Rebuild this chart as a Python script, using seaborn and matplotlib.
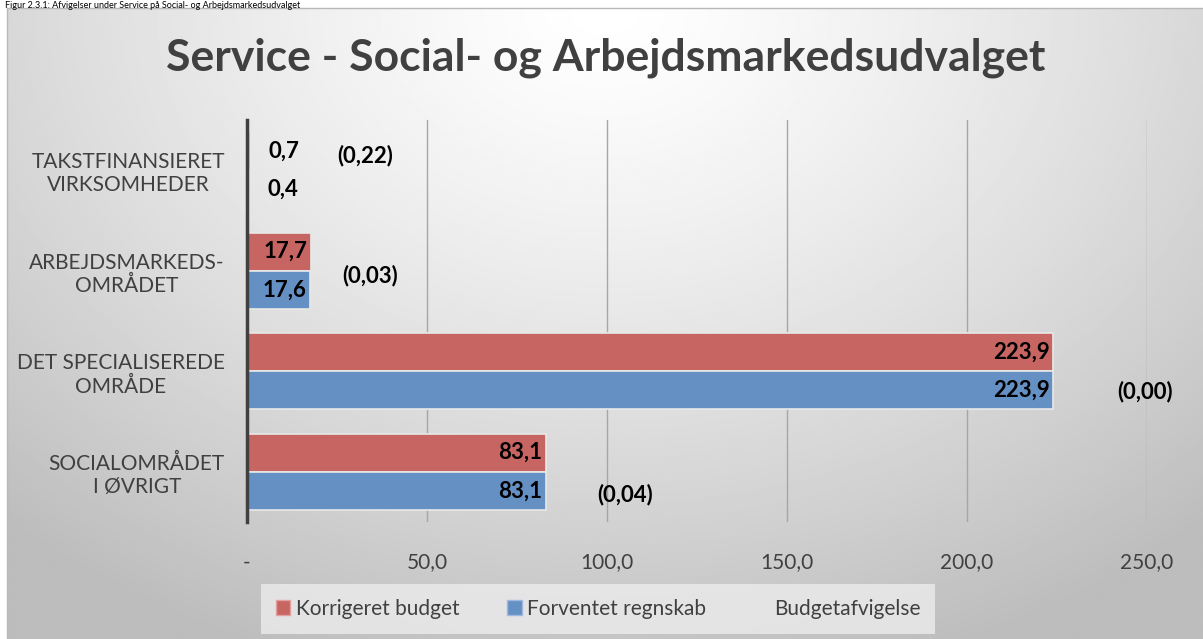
import numpy as np
import pandas as pd
import matplotlib
matplotlib.use("Agg")
import matplotlib.pyplot as plt
import seaborn as sns
from matplotlib.patches import Patch

# data
kategorier = ["TAKSTFINANSIERET\nVIRKSOMHEDER", "ARBEJDSMARKEDS-\nOMRÅDET",
              "DET SPECIALISEREDE\nOMRÅDE", "SOCIALOMRÅDET\nI ØVRIGT"]
korrigeret_budget = [0.7, 17.7, 223.9, 83.1]
forventet_regnskab = [0.4, 17.6, 223.9, 83.1]
budgetafvigelse = [-0.22, -0.03, -0.00, -0.04]
serier = ["Korrigeret budget", "Forventet regnskab", "Budgetafvigelse"]
x_ticks = [0, 50, 100, 150, 200, 250]
x_ticklabels = ["-", "50,0", "100,0", "150,0", "200,0", "250,0"]

# placement of the deviation labels (layout only)
afv_dx = [32, 16.5, 25.5, 22]
afv_dy = [-0.15, 0.05, 0.2, 0.23]

farver = {"Korrigeret budget": "#C76562", "Forventet regnskab": "#6590C4"}
tekst_farve = "#404040"
FONT = "Lato"

sns.set_theme(style="white")
plt.rcParams["font.family"] = [FONT, "DejaVu Sans"]

W, H = 1203, 639
fig = plt.figure(figsize=(W / 100, H / 100), dpi=100)

# gradient background for the chart frame
bg = fig.add_axes([7 / W, 0, 1 - 7 / W, 1 - 8 / H], zorder=-10)
yy, xx = np.mgrid[0:1:300j, 0:1:600j]
r = np.sqrt(((xx - 0.5) / 0.75) ** 2 + (yy / 1.1) ** 2)
grad = 1.0 - 0.26 * np.clip(r, 0, 1) ** 1.3
bg.imshow(grad, cmap="gray", vmin=0, vmax=1, aspect="auto", extent=[0, 1, 0, 1], origin="upper")
bg.set_xlim(0, 1)
bg.set_ylim(0, 1)
bg.axis("off")
fig.add_artist(plt.Line2D([7 / W, 7 / W], [0, 1 - 8 / H], color="#b8b8b8", lw=1))
fig.add_artist(plt.Line2D([7 / W, 1], [1 - 8 / H, 1 - 8 / H], color="#b8b8b8", lw=1))

# caption of the figure above the chart frame
fig.text(5 / W, 1 - 0.5 / H, "Figur 2.3.1: Afvigelser under Service på Social- og Arbejdsmarkedsudvalget",
         fontsize=6.5, color="black", va="top", ha="left")

x0_px, x1_px = 247, 1147
ax = fig.add_axes([x0_px / W, 1 - 522 / H, (x1_px - x0_px) / W, (522 - 120) / H])
ax.patch.set_alpha(0)

df = pd.DataFrame({
    "kategori": kategorier * 2,
    "serie": [serier[0]] * 4 + [serier[1]] * 4,
    "vaerdi": korrigeret_budget + forventet_regnskab,
})

sns.barplot(data=df, y="kategori", x="vaerdi", hue="serie", order=kategorier,
            hue_order=serier[:2], palette=farver, orient="h", width=0.76,
            saturation=1, edgecolor="#e8e8e8", linewidth=1.2, legend=False, ax=ax, zorder=3)

ax.set_xlim(0, 250)
ax.set_ylim(3.5, -0.5)
ax.set_xticks(x_ticks)
ax.set_xticklabels(x_ticklabels, fontsize=15, color=tekst_farve)
ax.set_yticks(range(len(kategorier)))
ax.set_yticklabels(kategorier, fontsize=15, color=tekst_farve, multialignment="center")
ax.tick_params(axis="y", length=0, pad=16)
ax.tick_params(axis="x", length=0, pad=22)
ax.set_xlabel("")
ax.set_ylabel("")
ax.grid(axis="x", color="#a6a6a6", lw=1, zorder=0)
ax.set_axisbelow(True)
for s in ["top", "right", "bottom"]:
    ax.spines[s].set_visible(False)
ax.spines["left"].set_color("#404040")
ax.spines["left"].set_linewidth(2.5)
ax.spines["left"].set_zorder(5)

# value labels
for i in range(len(kategorier)):
    for v, dy in [(korrigeret_budget[i], -0.19), (forventet_regnskab[i], 0.19)]:
        txt = f"{v:.1f}".replace(".", ",")
        if v < 10:
            ax.text(v + 5.4, i + dy, txt, ha="left", va="center", fontsize=16,
                    fontweight="bold", color="black", zorder=6)
        else:
            ax.text(v - 1.0, i + dy, txt, ha="right", va="center", fontsize=16,
                    fontweight="bold", color="black", zorder=6)
    afv = budgetafvigelse[i]
    txt = "(" + f"{abs(afv):.2f}".replace(".", ",") + ")"
    xa = max(korrigeret_budget[i], forventet_regnskab[i]) + afv_dx[i]
    ax.text(xa, i + afv_dy[i], txt, ha="center", va="center", fontsize=16,
            fontweight="bold", color="black", zorder=6, clip_on=False)

fig.text(606 / W, 1 - 58 / H, "Service - Social- og Arbejdsmarkedsudvalget",
         ha="center", va="center", fontsize=32, fontweight="bold", color=tekst_farve)

handles = [Patch(facecolor=farver[serier[0]], edgecolor="#e0a0a0"),
           Patch(facecolor=farver[serier[1]], edgecolor="#a0b8e0"),
           Patch(facecolor="none", edgecolor="none")]
leg = fig.legend(handles, serier, loc="center", bbox_to_anchor=(598 / W, 1 - 609 / H),
                 ncol=3, frameon=True, fontsize=15, handlelength=0.7, handleheight=0.7,
                 handletextpad=0.25, columnspacing=2.3, borderpad=0.7, borderaxespad=0,
                 fancybox=False)
leg.get_frame().set_facecolor("#ececec")
leg.get_frame().set_edgecolor("none")
leg.get_frame().set_alpha(0.8)
for t in leg.get_texts():
    t.set_color(tekst_farve)

fig.savefig("out.png", dpi=100)
